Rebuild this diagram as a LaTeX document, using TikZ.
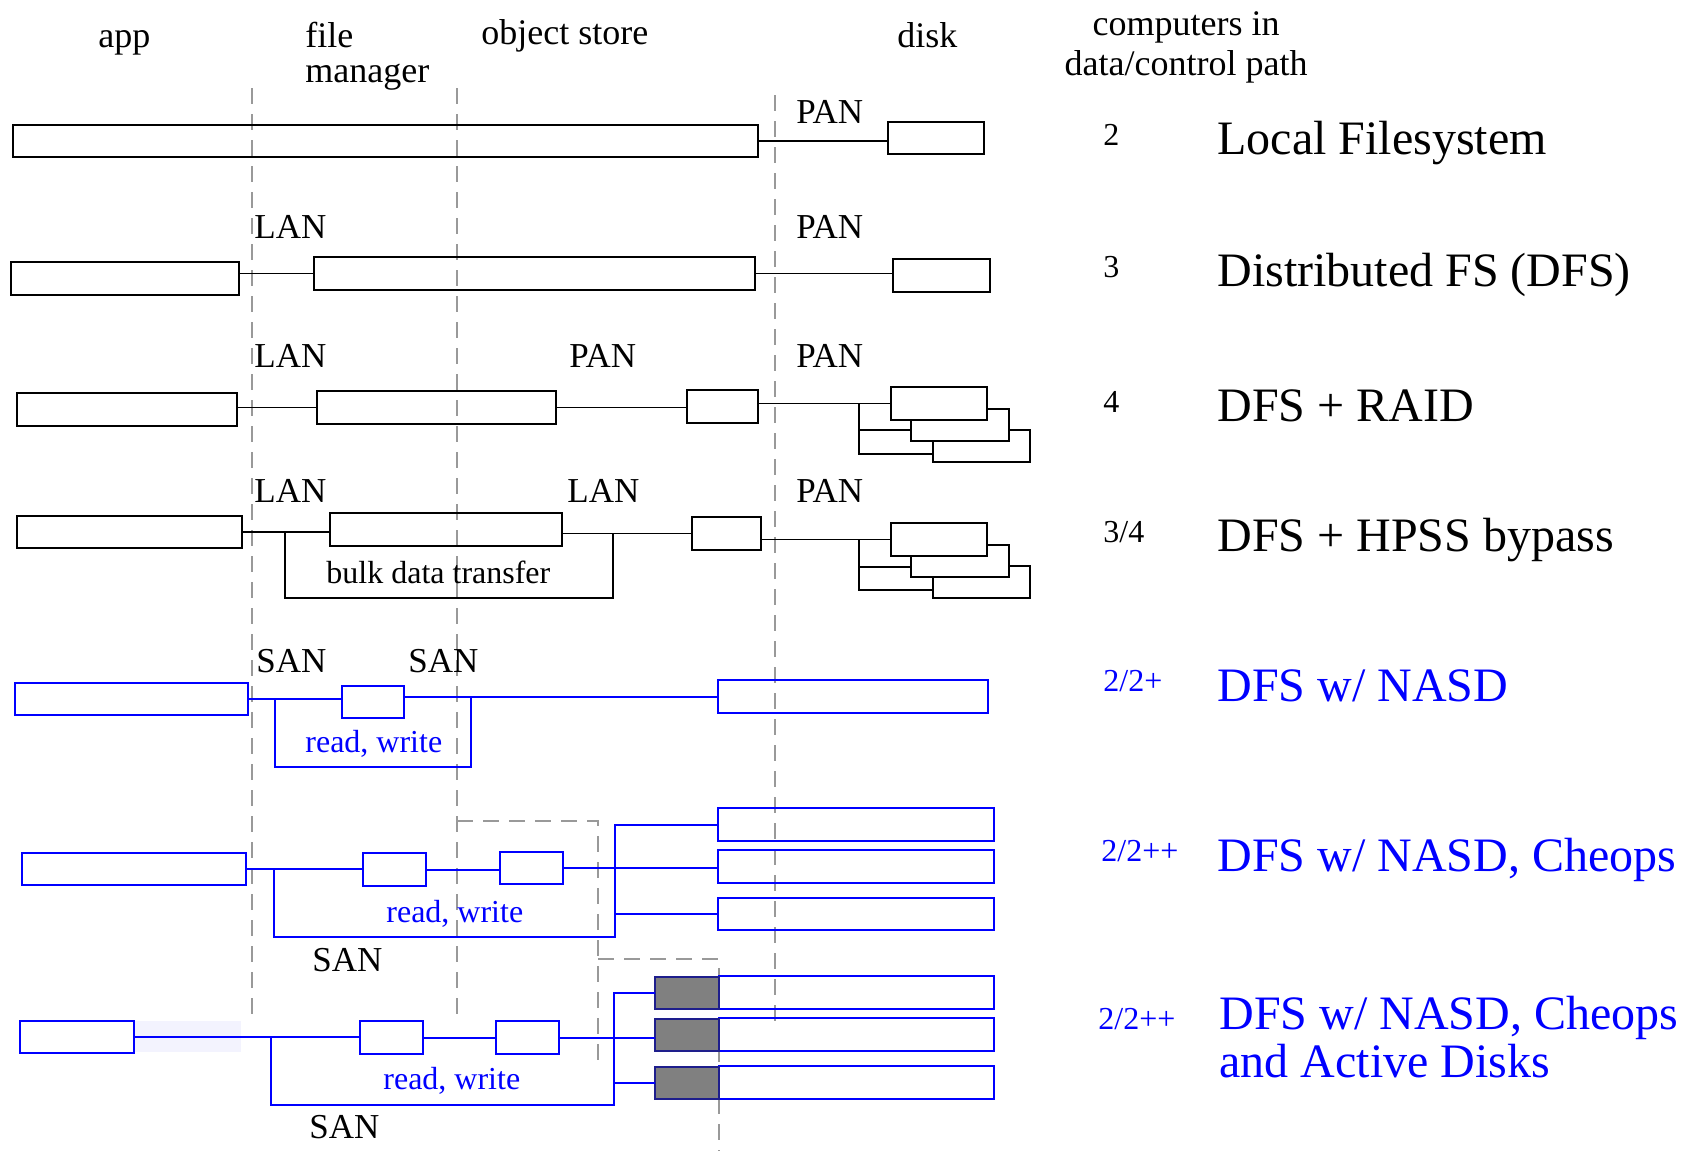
\documentclass[tikz,border=0pt]{standalone}
\usepackage{fontspec}
\setmainfont{Liberation Serif}
\usetikzlibrary{fit}
\definecolor{pblue}{RGB}{0,0,255}
\definecolor{shade}{RGB}{243,243,254}
\definecolor{activeedge}{RGB}{30,30,140}
\begin{document}
\begin{tikzpicture}[x=0.5pt,y=-0.5pt,
  bk/.style={draw=black,line width=0.8pt,inner sep=0pt,outer sep=0pt},
  bkw/.style={bk,fill=white},
  bl/.style={draw=pblue,line width=1pt,inner sep=0pt,outer sep=0pt},
  act/.style={draw=activeedge,fill=gray,line width=1pt,inner sep=0pt,outer sep=0pt},
  shd/.style={fill=shade,draw=none,inner sep=0pt,outer sep=0pt},
  wire/.style={draw=black,line width=0.8pt},
  bwire/.style={draw=pblue,line width=1pt},
  guide/.style={draw=gray!80,line width=0.7pt,dash pattern=on 8pt off 5pt},
  head/.style={anchor=base west,inner sep=0pt,font=\fontsize{18}{20}\selectfont},
  headc/.style={anchor=base,inner sep=0pt,font=\fontsize{18}{20}\selectfont},
  net/.style={anchor=base west,inner sep=0pt,font=\fontsize{17.5}{20}\selectfont},
  small/.style={anchor=base west,inner sep=0pt,font=\fontsize{16}{18}\selectfont},
  num/.style={anchor=base west,inner sep=0pt,font=\fontsize{16}{18}\selectfont},
  big/.style={anchor=base west,inner sep=0pt,font=\fontsize{24}{24}\selectfont}
]
\useasboundingbox (0,0) rectangle (1690,1151);

% ---------- column guides ----------
\coordinate (g1t) at (252,88);  \coordinate (g1b) at (252,1017);
\coordinate (g2t) at (457,88);  \coordinate (g2b) at (457,1017);
\coordinate (g3t) at (775,95);  \coordinate (g3b) at (775,1022);
\draw[guide] (g1t) -- (g1b);
\draw[guide] (g2t) -- (g2b);
\draw[guide] (g3t) -- (g3b);
\coordinate (c1a) at (457,821); \coordinate (c1b) at (598,821); \coordinate (c1c) at (598,1065);
\coordinate (c2a) at (598,959); \coordinate (c2b) at (719,959); \coordinate (c2c) at (719,1151);
\draw[guide] (c1a) -- (c1b) -- (c1c);
\draw[guide] (c2a) -- (c2b) -- (c2c);

% ---------- headings ----------
\node[head] (hApp) at (98,47) {app};
\node[head] (hFile) at (305,47) {file};
\node[head] (hMgr) at (305,82) {manager};
\node[head] (hObj) at (481,44) {object store};
\node[head] (hDisk) at (897,47) {disk};
\node[headc] (hComp) at (1186,35) {computers in};
\node[headc] (hPath) at (1186,75) {data/control path};

% ---------- row 1: local filesystem ----------
\node[bk,fit={(13,125) (758,157)}] (r1a) {};
\node[bk,fit={(888,122) (984,154)}] (r1d) {};
\draw[wire] (r1a.east) -- (r1a.east -| r1d.west);
\node[net] (r1pan) at (796,123) {PAN};
\node[num] (r1n) at (1103,145) {2};
\node[big] (r1t) at (1217,154) {Local Filesystem};

% ---------- row 2: DFS ----------
\node[bk,fit={(11,262) (239,295)}] (r2a) {};
\node[bk,fit={(314,257) (755,290)}] (r2f) {};
\node[bk,fit={(893,259) (990,292)}] (r2d) {};
\draw[wire] (r2f.west) -- (r2f.west -| r2a.east);
\draw[wire] (r2f.east) -- (r2f.east -| r2d.west);
\node[net] (r2lan) at (254,238) {LAN};
\node[net] (r2pan) at (796,238) {PAN};
\node[num] (r2n) at (1103,277) {3};
\node[big] (r2t) at (1217,286) {Distributed FS (DFS)};

% ---------- row 3: DFS + RAID ----------
\node[bk,fit={(17,393) (237,426)}] (r3a) {};
\node[bk,fit={(317,391) (556,424)}] (r3f) {};
\node[bk,fit={(687,390) (758,423)}] (r3o) {};
\node[bkw,fit={(933,430) (1030,462)}] (r3c) {};
\node[bkw,fit={(911,409) (1009,441)}] (r3b) {};
\node[bkw,fit={(891,387) (987,420)}] (r3r) {};
\draw[wire] (r3f.west) -- (r3f.west -| r3a.east);
\draw[wire] (r3f.east) -- (r3f.east -| r3o.west);
\draw[wire] (r3r.west) -- (r3r.west -| r3o.east);
\coordinate (r3j) at (859,403.5); \coordinate (r3j1) at (859,430); \coordinate (r3j2) at (859,454);
\draw[wire] (r3j) -- (r3j2) -- (r3j2 -| r3c.west);
\draw[wire] (r3j1) -- (r3j1 -| r3b.west);
\node[net] (r3lan) at (254,367) {LAN};
\node[net] (r3pan1) at (569,367) {PAN};
\node[net] (r3pan2) at (796,367) {PAN};
\node[num] (r3n) at (1103,412) {4};
\node[big] (r3t) at (1217,421) {DFS + RAID};

% ---------- row 4: DFS + HPSS bypass ----------
\node[bk,fit={(17,516) (242,548)}] (r4a) {};
\node[bk,fit={(330,513) (562,546)}] (r4f) {};
\node[bk,fit={(692,517) (761,550)}] (r4o) {};
\node[bkw,fit={(933,566) (1030,598)}] (r4c) {};
\node[bkw,fit={(911,545) (1009,577)}] (r4b) {};
\node[bkw,fit={(891,523) (987,556)}] (r4r) {};
\draw[wire] (r4a.east) -- (r4a.east -| r4f.west);
\draw[wire] (r4o.west) -- (r4o.west -| r4f.east);
\draw[wire] (r4r.west) -- (r4r.west -| r4o.east);
\coordinate (r4j) at (859,539.5); \coordinate (r4j1) at (859,567); \coordinate (r4j2) at (859,590);
\draw[wire] (r4j) -- (r4j2) -- (r4j2 -| r4c.west);
\draw[wire] (r4j1) -- (r4j1 -| r4b.west);
\coordinate (r4k1) at (285,532); \coordinate (r4k2) at (285,598);
\coordinate (r4k3) at (613,598); \coordinate (r4k4) at (613,533.5);
\draw[wire] (r4k1) -- (r4k2) -- (r4k3) -- (r4k4);
\node[small] (r4bulk) at (326,583) {bulk data transfer};
\node[net] (r4lan1) at (254,502) {LAN};
\node[net] (r4lan2) at (567,502) {LAN};
\node[net] (r4pan) at (796,502) {PAN};
\node[num] (r4n) at (1103,542) {3/4};
\node[big] (r4t) at (1217,551) {DFS + HPSS bypass};

% ---------- row 5: DFS w/ NASD ----------
\node[bl,fit={(15,683) (248,715)}] (r5a) {};
\node[bl,fit={(342,686) (404,718)}] (r5s) {};
\node[bl,fit={(718,680) (988,713)}] (r5d) {};
\draw[bwire] (r5a.east) -- (r5a.east -| r5s.west);
\draw[bwire] (r5d.west) -- (r5d.west -| r5s.east);
\coordinate (r5k1) at (275,699); \coordinate (r5k2) at (275,767);
\coordinate (r5k3) at (471,767); \coordinate (r5k4) at (471,696.5);
\draw[bwire] (r5k1) -- (r5k2) -- (r5k3) -- (r5k4);
\node[small,text=pblue] (r5rw) at (305,752) {read, write};
\node[net] (r5san1) at (256,672) {SAN};
\node[net] (r5san2) at (408,672) {SAN};
\node[num,text=pblue] (r5n) at (1103,691) {2/2+};
\node[big,text=pblue] (r5t) at (1217,701) {DFS w/ NASD};

% ---------- row 6: DFS w/ NASD, Cheops ----------
\node[bl,fit={(22,853) (246,885)}] (r6a) {};
\node[bl,fit={(363,853) (426,886)}] (r6s1) {};
\node[bl,fit={(500,852) (563,884)}] (r6s2) {};
\node[bl,fit={(718,808) (994,841)}] (r6d1) {};
\node[bl,fit={(718,850) (994,883)}] (r6d2) {};
\node[bl,fit={(718,898) (994,930)}] (r6d3) {};
\draw[bwire] (r6a.east) -- (r6a.east -| r6s1.west);
\draw[bwire] (r6s1.east) -- (r6s1.east -| r6s2.west);
\draw[bwire] (r6s2.east) -- (r6s2.east -| r6d2.west);
\coordinate (r6b1) at (615,824.5); \coordinate (r6b2) at (615,937);
\coordinate (r6b3) at (274,937); \coordinate (r6b4) at (274,869);
\coordinate (r6b5) at (615,914);
\draw[bwire] (r6d1.west) -- (r6b1) -- (r6b2) -- (r6b3) -- (r6b4);
\draw[bwire] (r6d3.west) -- (r6b5);
\node[small,text=pblue] (r6rw) at (386,922) {read, write};
\node[net] (r6san) at (312,971) {SAN};
\node[num,text=pblue] (r6n) at (1101,861) {2/2++};
\node[big,text=pblue] (r6t) at (1217,871) {DFS w/ NASD, Cheops};

% ---------- row 7: DFS w/ NASD, Cheops and Active Disks ----------
\node[shd,fit={(134,1021) (241,1052)}] (r7sh) {};
\node[bl,fit={(20,1021) (134,1053)}] (r7a) {};
\node[bl,fit={(360,1021) (423,1054)}] (r7s1) {};
\node[bl,fit={(496,1021) (559,1054)}] (r7s2) {};
\node[bl,fit={(719,976) (994,1009)}] (r7d1) {};
\node[bl,fit={(719,1018) (994,1051)}] (r7d2) {};
\node[bl,fit={(719,1066) (994,1099)}] (r7d3) {};
\node[act,fit={(655,977) (719,1009)}] (r7g1) {};
\node[act,fit={(655,1019) (719,1051)}] (r7g2) {};
\node[act,fit={(655,1067) (719,1099)}] (r7g3) {};
\draw[bwire] (r7a.east) -- (r7a.east -| r7s1.west);
\draw[bwire] (r7s1.east) -- (r7s1.east -| r7s2.west);
\draw[bwire] (r7s2.east) -- (r7s2.east -| r7g2.west);
\coordinate (r7b1) at (614,993); \coordinate (r7b2) at (614,1105);
\coordinate (r7b3) at (271,1105); \coordinate (r7b4) at (271,1037);
\coordinate (r7b5) at (614,1083);
\draw[bwire] (r7g1.west) -- (r7b1) -- (r7b2) -- (r7b3) -- (r7b4);
\draw[bwire] (r7g3.west) -- (r7b5);
\node[small,text=pblue] (r7rw) at (383,1089) {read, write};
\node[net] (r7san) at (309,1138) {SAN};
\node[num,text=pblue] (r7n) at (1098,1029) {2/2++};
\node[big,text=pblue] (r7t1) at (1219,1029) {DFS w/ NASD, Cheops};
\node[big,text=pblue] (r7t2) at (1219,1077) {and Active Disks};
\end{tikzpicture}
\end{document}
